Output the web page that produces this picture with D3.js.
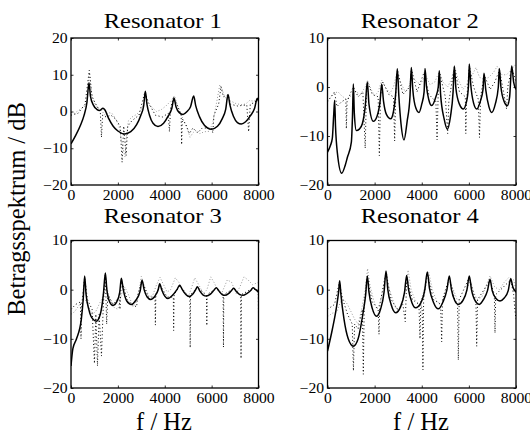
<!DOCTYPE html>
<html>
<head>
<meta charset="utf-8">
<script src="https://cdn.jsdelivr.net/npm/d3@7"></script>
<style>
body { margin: 0; background: #fff; }
text { font-family: "Liberation Serif", "Times New Roman", serif; fill: #000; }
</style>
</head>
<body>
<script>
// [Hz, dB] pairs
var res1Solid = [[0,-8.8],[200,-6.5],[400,-3.8],[550,-1.2],[680,2.5],[768,7.8],[830,4.2],[950,1.8],[1100,0.6],[1224,0.3],[1365,0.9],[1450,0.4],[1600,-1.8],[1800,-4],[2000,-5.3],[2290,-6.1],[2550,-5.5],[2800,-3.6],[2980,-1],[3100,1.5],[3172,5.5],[3240,2],[3350,-1],[3500,-3.2],[3712,-4.1],[3950,-3.2],[4150,-1.2],[4300,0.8],[4395,3.6],[4480,1.3],[4620,-0.3],[4779,-0.8],[4950,0],[5100,1.3],[5234,4.2],[5320,1.6],[5480,-1.4],[5700,-3.8],[5988,-4.8],[6250,-4],[6450,-2],[6600,0.6],[6700,4.6],[6780,1.8],[6930,-1.3],[7100,-3],[7268,-3.4],[7450,-2.8],[7650,-1.2],[7830,0.8],[7950,3.6],[8000,2.8]];
var res1Gray = [[0,-0.3],[150,-0.5],[300,0.2],[450,0.8],[600,1.5],[700,4],[790,10.5],[870,5],[1000,2.3],[1150,1],[1300,0.3],[1450,-1],[1600,-0.3],[1750,-0.5],[1900,-2],[2050,-4],[2150,-8],[2300,-12.3],[2380,-6],[2450,-2.5],[2600,-1.5],[2800,-0.8],[3000,0.5],[3100,2.5],[3180,4.2],[3280,2],[3450,1.2],[3650,0],[3850,0.5],[4050,1.5],[4250,2.8],[4420,4.3],[4520,2],[4650,0],[4800,-2.5],[4950,-4.5],[5080,-7],[5200,-5.8],[5350,-5],[5500,-6],[5700,-5.5],[5900,-5.4],[6050,-3],[6200,2],[6350,7.3],[6450,6],[6557,3.9],[6770,3],[7054,2.1],[7338,1.8],[7500,2.3],[7620,3],[7800,2.8],[8000,3.5]];
var res1Black = [[0,-1],[300,-0.5],[600,2],[780,11.2],[900,4],[1100,1.5],[1250,0],[1300,-7],[1350,-1],[1500,-1.5],[1700,-1],[1900,-2],[2100,-4],[2180,-13.8],[2250,-4],[2350,-12],[2420,-4],[2600,-2.5],[2900,-1],[3150,5.3],[3300,2.5],[3600,-1],[3900,-1.5],[4150,-0.5],[4200,-5.5],[4250,1],[4380,4],[4550,1.5],[4700,-1],[4720,-9],[4750,-2],[4900,-3.5],[5050,-6],[5200,-4.5],[5400,-5.8],[5600,-4.5],[6000,-4.5],[6050,-5.8],[6100,-1],[6300,2],[6400,6.8],[6500,4],[6700,4.5],[6800,2],[7100,1.5],[7500,1.8],[7580,-5.5],[7650,2],[7850,2.5],[8000,4]];

var res2Solid = [[0,-13.3],[120,-12],[204,-10.5],[260,-6],[304,-2.7],[340,-8],[420,-13.5],[602,-17.6],[750,-16],[842,-14.4],[1011,-11.3],[1060,-6],[1096,0.6],[1140,-5.5],[1223,-8.9],[1350,-8.6],[1478,-7.5],[1600,-4],[1690,1.0],[1760,-3.5],[1944,-7.0],[2100,-6],[2230,-3],[2300,0.6],[2380,-3],[2500,-5.6],[2682,-6.5],[2800,-5],[2900,-1],[2963,3.7],[3030,-2],[3120,-7.5],[3247,-10.8],[3380,-7],[3500,-2],[3557,4.0],[3620,-0.5],[3750,-4.3],[3883,-5.2],[4000,-3.5],[4100,-1],[4138,3.8],[4200,0.2],[4300,-2.6],[4421,-3.8],[4600,-2],[4700,0],[4745,3.3],[4800,-1.5],[4950,-6.5],[5085,-8.6],[5220,-6],[5330,-1],[5382,4.3],[5450,-0.3],[5600,-3.5],[5764,-4.5],[5900,-3],[5980,0],[6018,4.7],[6080,0.5],[6200,-3.3],[6332,-4.5],[6480,-3],[6600,-0.5],[6642,2.8],[6720,-0.7],[6850,-4],[6969,-5.2],[7120,-3.5],[7250,0],[7292,3.8],[7360,0],[7500,-3],[7631,-3.8],[7730,-2],[7818,4.3],[7900,1],[8000,-0.5]];
var res2Gray = [[0,-2.8],[150,-2],[300,-1.2],[450,-1],[600,-1.8],[800,-2.5],[1000,-1.8],[1200,-1],[1400,-1.5],[1600,0],[1700,1.4],[1850,-0.5],[2000,-1.8],[2150,-1],[2300,1.4],[2450,0],[2650,-1.3],[2800,0],[2950,3],[3100,1],[3300,-1],[3450,0],[3600,2],[3800,1],[3950,0.5],[4150,2.5],[4350,0.5],[4550,1],[4750,3.2],[4900,1],[5100,0],[5250,1.5],[5400,4],[5550,1.5],[5750,-0.5],[5900,0.5],[6100,2],[6300,4],[6450,2],[6650,1.5],[6850,2],[7050,3],[7200,4.2],[7400,2.5],[7600,2.5],[7800,3.5],[7950,4.5],[8000,4]];
var res2Black = [[0,-3],[300,-1],[400,-4],[600,-3],[780,-2.5],[800,-8.5],[830,-3],[1000,-1],[1100,0],[1300,-2],[1500,-1],[1600,-12.5],[1650,-2],[1700,1],[1900,-1.5],[2150,-2],[2200,-14],[2250,-2],[2350,1],[2600,-1.5],[2800,-2],[2850,-11],[2900,-1],[2970,3.5],[3200,-1.5],[3500,0],[3560,3.8],[3800,-1],[4100,3],[4300,-1.5],[4600,-3],[4650,-10.8],[4700,-1],[4750,3],[5000,-2],[5100,-9.5],[5150,-3],[5380,4],[5600,-1],[5850,-2],[5870,-9.5],[5900,-3],[6020,4.3],[6200,0],[6400,-2.5],[6450,-10.3],[6500,-2],[6650,2.5],[6900,-0.5],[7100,1],[7300,3.5],[7600,-4.5],[7650,0],[7820,4],[8000,1]];

var res3Solid = [[0,-15.5],[80,-12],[228,-10.1],[441,-6.0],[520,-2],[583,2.8],[640,-0.8],[760,-4],[900,-5.8],[1081,-6.4],[1250,-5],[1380,-1],[1465,3.4],[1530,0],[1650,-2.5],[1792,-3.2],[1950,-2.5],[2080,-0.5],[2148,2.3],[2230,0],[2380,-2.3],[2574,-3.0],[2760,-2.2],[2950,-0.3],[3030,1.9],[3120,0],[3250,-1.5],[3400,-2.0],[3580,-1.3],[3720,0],[3784,1.2],[3870,0],[4000,-1.3],[4139,-1.8],[4320,-1.2],[4520,0],[4637,0.9],[4750,0],[4900,-1],[5035,-1.4],[5200,-0.9],[5320,0],[5390,0.6],[5500,-0.3],[5640,-1.1],[5774,-1.3],[5950,-0.9],[6100,-0.1],[6200,0.4],[6330,-0.4],[6450,-1],[6557,-1.15],[6720,-0.8],[6860,-0.1],[6941,0.3],[7060,-0.4],[7200,-1],[7339,-1.15],[7500,-0.8],[7680,-0.1],[7766,0.4],[7880,0],[8000,-0.5]];
var res3Gray = [[0,-5],[150,-4.5],[300,-3.5],[450,-2.5],[600,-2],[750,-3.5],[900,-5],[1050,-4.5],[1200,-3],[1350,-1.5],[1480,1.5],[1600,-1],[1800,-3.5],[2000,-4],[2150,-1],[2300,0.5],[2450,-1],[2650,-3.5],[2850,-2],[3000,2.7],[3150,0.5],[3350,-1.5],[3500,-1],[3650,1],[3800,2.5],[3950,1],[4100,-0.5],[4250,0],[4450,2.4],[4600,1.5],[4800,-0.5],[5000,-1.5],[5150,0.5],[5280,2.4],[5450,1],[5650,-0.8],[5800,0],[5960,2.6],[6100,1.5],[6300,-0.5],[6450,-0.5],[6670,2],[6850,1.5],[7050,-0.8],[7200,0.5],[7380,2.6],[7550,2],[7750,1],[8000,1.5]];
var res3Black = [[0,-4],[200,-3],[400,-2.5],[427,-10],[460,-3],[583,2.5],[700,-2],[900,-4],[1000,-15],[1060,-5],[1130,-15.5],[1200,-5],[1300,-13.5],[1380,-3],[1465,3.2],[1522,-7],[1570,-1],[1800,-3],[2050,-1.5],[2090,-4],[2148,2],[2400,-2],[2600,-3],[2800,-3.5],[2850,-1],[3030,1.8],[3300,-1.5],[3584,-1.5],[3600,-7.2],[3620,-1],[3800,1],[4100,-1.5],[4366,-1.5],[4380,-8.3],[4400,-1],[4650,0.8],[5000,-1.3],[5070,-1.3],[5085,-11.8],[5100,-1],[5400,0.5],[5780,-1.2],[5795,-7.3],[5810,-1],[6200,0.3],[6490,-1],[6505,-11.7],[6520,-1],[6940,0.2],[7240,-1],[7255,-14],[7270,-1],[7770,0.3],[7990,-0.5],[8000,-5]];

var res4Solid = [[0,-12.5],[204,-8.1],[390,-3.3],[470,-0.5],[517,1.8],[570,-1],[700,-6],[880,-10],[1096,-11.5],[1300,-10],[1500,-5],[1620,-1],[1690,2.8],[1760,-0.5],[1900,-3.8],[2087,-5.4],[2250,-4],[2400,-0.5],[2483,3.8],[2560,0],[2700,-3],[2893,-4.7],[3100,-3.5],[3270,-0.5],[3360,2.9],[3440,0],[3580,-2.6],[3743,-3.7],[3950,-2.8],[4130,0],[4236,3.6],[4330,0.2],[4500,-2.6],[4703,-3.9],[4900,-2.5],[5070,0],[5170,2.8],[5260,0],[5400,-2.2],[5552,-3.0],[5750,-2.2],[5920,0],[6018,2.8],[6110,0],[6270,-2.3],[6442,-3.0],[6620,-2],[6790,-0.2],[6897,2.1],[6990,-0.2],[7150,-1.8],[7321,-2.3],[7500,-1.7],[7670,-0.2],[7775,2.2],[7870,0.5],[8000,-0.5]];
var res4Gray = [[0,-5.5],[200,-4.8],[400,-4.5],[550,-2.5],[700,-2],[850,-3],[1000,-4.5],[1150,-6],[1300,-7],[1450,-4],[1600,0],[1700,4.3],[1800,1],[1950,-2],[2100,-4],[2250,-2.5],[2400,1],[2500,3.5],[2600,0.5],[2800,-2.5],[3000,-4.5],[3200,-2],[3350,1],[3420,4],[3550,0],[3700,-2],[3900,-3],[4050,-1],[4200,2],[4300,3.5],[4450,0],[4650,-2.5],[4850,-3],[5000,-1],[5150,1.5],[5300,0.5],[5500,-2],[5700,-2.5],[5900,-0.5],[6050,2],[6200,-0.5],[6350,-2],[6550,-1.5],[6700,0.5],[6900,2.8],[7100,0.5],[7300,0],[7500,1.5],[7700,2.5],[7900,2],[8000,0]];
var res4Black = [[0,-4],[300,-3],[500,1.5],[650,-2],[850,-5],[1050,-7],[1100,-16.5],[1150,-7],[1300,-8],[1480,-4],[1520,-17.2],[1560,-3],[1690,2.5],[1900,-2.5],[2150,-4],[2186,-9.1],[2220,-3],[2480,3.5],[2700,-2],[2950,-4],[3200,-3],[3300,-6.5],[3340,-1],[3360,2.5],[3600,-2],[3880,-3],[3926,-10],[3960,-3],[4020,-4],[4050,-16.3],[4080,-2],[4236,3.2],[4500,-2],[4800,-3],[4846,-10.6],[4880,-2],[5170,2.5],[5400,-2],[5520,-3],[5552,-14.3],[5590,-2],[6018,2.5],[6300,-2.5],[6332,-11.5],[6370,-2],[6897,1.8],[7080,-1],[7109,-8.8],[7140,-1],[7775,2],[7900,-1],[7950,-4],[8000,-6]];

var titles = ["Resonator 1", "Resonator 2", "Resonator 3", "Resonator 4"];
var yDomains = [[-20, 20], [-20, 10], [-20, 10], [-20, 10]];
var yTickLists = [[-20, -10, 0, 10, 20], [-20, -10, 0, 10], [-20, -10, 0, 10], [-20, -10, 0, 10]];
var xTicks = [0, 2000, 4000, 6000, 8000];
var solids = [res1Solid, res2Solid, res3Solid, res4Solid];
var grays = [res1Gray, res2Gray, res3Gray, res4Gray];
var blacks = [res1Black, res2Black, res3Black, res4Black];

var svg = d3.select("body").append("svg")
	.attr("width", 530)
	.attr("height", 433);

// panel boxes
var lefts = [71, 327.5, 71, 327.5];
var rights = [258.5, 516, 258.5, 516];
var tops = [38, 38, 240.5, 240.5];
var bottoms = [185, 185, 388, 388];
var titleY = [27.5, 27.5, 222.5, 222.5];

function fmt(v) { return v < 0 ? "\u2212" + Math.abs(v) : "" + v; }

for (var i = 0; i < 4; i++) {
	var x = d3.scaleLinear().domain([0, 8000]).range([lefts[i], rights[i]]);
	var y = d3.scaleLinear().domain(yDomains[i]).range([bottoms[i], tops[i]]);
	var g = svg.append("g");

	g.append("clipPath").attr("id", "clip" + i)
		.append("rect")
		.attr("x", lefts[i]).attr("y", tops[i])
		.attr("width", rights[i] - lefts[i]).attr("height", bottoms[i] - tops[i]);

	var line = d3.line()
		.x(function (d) { return x(d[0]); })
		.y(function (d) { return y(d[1]); })
		.curve(d3.curveMonotoneX);
	var dotLine = d3.line()
		.x(function (d) { return x(d[0]); })
		.y(function (d) { return y(d[1]); });

	var lines = g.append("g").attr("clip-path", "url(#clip" + i + ")");
	lines.append("path").datum(grays[i])
		.attr("fill", "none").attr("stroke", "#9a9a9a")
		.attr("stroke-width", 1).attr("stroke-dasharray", "1,2")
		.attr("d", dotLine);
	lines.append("path").datum(blacks[i])
		.attr("fill", "none").attr("stroke", "#000")
		.attr("stroke-width", 1).attr("stroke-dasharray", "1,2.5")
		.attr("d", dotLine);
	lines.append("path").datum(solids[i])
		.attr("fill", "none").attr("stroke", "#000")
		.attr("stroke-width", 1.5).attr("stroke-linejoin", "round")
		.attr("d", line);

	// axes, ticks inside like matlab
	g.append("g").attr("transform", "translate(0," + bottoms[i] + ")")
		.call(d3.axisBottom(x).tickValues(xTicks).tickSizeInner(-2.5).tickSizeOuter(0).tickPadding(5).tickFormat(d3.format("d")));
	g.append("g").attr("transform", "translate(" + lefts[i] + ",0)")
		.call(d3.axisLeft(y).tickValues(yTickLists[i]).tickSizeInner(-2.5).tickSizeOuter(0).tickPadding(3).tickFormat(fmt));
	g.append("g").attr("transform", "translate(0," + tops[i] + ")")
		.call(d3.axisTop(x).tickValues(xTicks).tickSizeInner(-2.5).tickSizeOuter(0).tickFormat(""));
	g.append("g").attr("transform", "translate(" + rights[i] + ",0)")
		.call(d3.axisRight(y).tickValues(yTickLists[i]).tickSizeInner(-2.5).tickSizeOuter(0).tickFormat(""));
	g.selectAll(".domain").remove();
	g.selectAll(".tick line").attr("stroke", "#000").attr("stroke-width", 0.8);
	g.selectAll(".tick text")
		.attr("font-family", "Liberation Serif").attr("font-size", 14).attr("fill", "#000")
		.attr("transform", "scale(1.12,1)");

	g.append("rect")
		.attr("x", lefts[i]).attr("y", tops[i])
		.attr("width", rights[i] - lefts[i]).attr("height", bottoms[i] - tops[i])
		.attr("fill", "none").attr("stroke", "#000").attr("stroke-width", 1.3);

	g.append("text")
		.attr("transform", "translate(" + ((lefts[i] + rights[i]) / 2 - 2) + "," + titleY[i] + ") scale(1.2,1)")
		.attr("text-anchor", "middle").attr("font-size", 20.5)
		.text(titles[i]);
}

svg.append("text").attr("x", 164).attr("y", 430).attr("text-anchor", "middle").attr("font-size", 24.5).text("f / Hz");
svg.append("text").attr("x", 421).attr("y", 430).attr("text-anchor", "middle").attr("font-size", 24.5).text("f / Hz");
svg.append("text").attr("transform", "translate(25,209) rotate(-90)")
	.attr("text-anchor", "middle").attr("font-size", 24.5).text("Betragsspektrum / dB");
</script>
</body>
</html>
